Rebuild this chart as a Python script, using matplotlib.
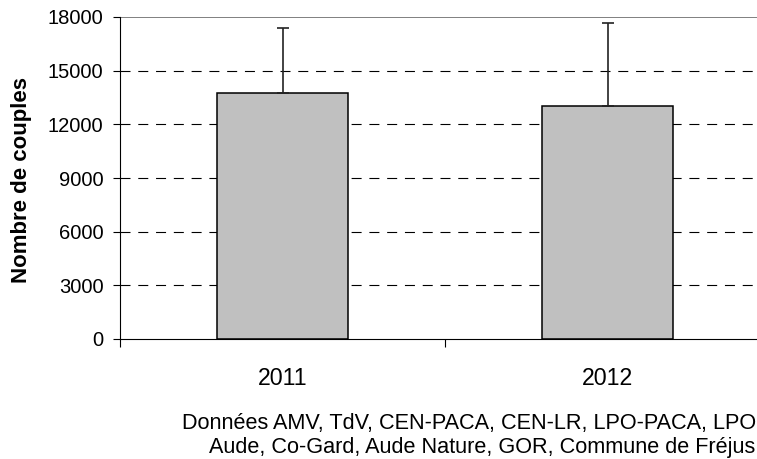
import matplotlib
matplotlib.use("Agg")
import matplotlib.pyplot as plt

plt.rcParams['font.family'] = ['Liberation Sans', 'DejaVu Sans']

years = ['2011', '2012']
couples = [13750, 13030]
err_plus = [3640, 4660]
y_ticks = [0, 3000, 6000, 9000, 12000, 15000, 18000]
source_line1 = "Données AMV, TdV, CEN-PACA, CEN-LR, LPO-PACA, LPO"
source_line2 = "Aude, Co-Gard, Aude Nature, GOR, Commune de Fréjus"

W, H = 757, 459
fig = plt.figure(figsize=(W / 100, H / 100), dpi=100)
ax = fig.add_axes([120 / W, 1 - 339 / H, 650 / W, 322 / H])

x = list(range(len(years)))

# grid first so bars sit on top
for v in y_ticks[1:-1]:
    ax.axhline(v, color='black', lw=0.8, linestyle=(0, (9, 7)), zorder=1)
ax.axhline(y_ticks[-1], color='#808080', lw=1.4, zorder=1)

ax.bar(x, couples, width=0.403, color='#C0C0C0', edgecolor='black',
       linewidth=1.1, zorder=2)
ax.errorbar(x, couples, yerr=[[0] * len(x), err_plus], fmt='none',
            ecolor='#222222', elinewidth=1.2, capsize=4, capthick=1.2, zorder=3)

ax.set_xlim(-0.5, 1.5)
ax.set_ylim(0, 18000)

ax.set_yticks(y_ticks)
ax.set_yticklabels([str(v) for v in y_ticks], fontsize=14.5)
ax.tick_params(axis='y', direction='out', length=5, width=0.8, pad=7)

ax.set_xticks(x)
ax.set_xticklabels(years, fontsize=16.7)
ax.tick_params(axis='x', which='major', length=0, pad=20)
ax.set_xticks([-0.5, 0.5, 1.5], minor=True)
ax.tick_params(axis='x', which='minor', direction='out', length=6, width=0.8)

for s in ['top', 'right']:
    ax.spines[s].set_visible(False)
ax.spines['left'].set_linewidth(0.8)
ax.spines['bottom'].set_linewidth(0.8)

ax.set_ylabel('Nombre de couples', fontsize=16, fontweight='bold')
ax.yaxis.set_label_coords(-0.136, 0.494)

fig.text(182 / W, 1 - 429 / H, source_line1, fontsize=15.6, va='baseline', ha='left')
fig.text(209 / W, 1 - 453 / H, source_line2, fontsize=15.6, va='baseline', ha='left')

fig.savefig('out.png', dpi=100)
